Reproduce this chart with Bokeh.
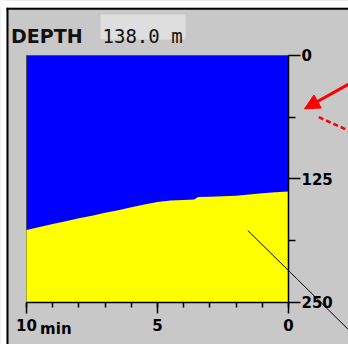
from bokeh.plotting import figure
from bokeh.models import Range1d, FixedTicker, Label, Arrow, NormalHead, ColumnDataSource, BoxAnnotation
from bokeh.embed import file_html
from bokeh.resources import INLINE

# ---- data: minutes before now and depth (m) ----
minutes = [10, 9.5, 9, 8.5, 8, 7.5, 7, 6.5, 6, 5.5, 5, 4.5, 4, 3.6, 3.45, 3, 2.5, 2, 1.5, 1, 0.5, 0]
depth = [177, 174, 171, 168, 165, 162.5, 159.5, 157, 154, 151, 148.5, 147, 146.5, 146, 143.5, 143.3, 142.8, 142.2, 141, 139.8, 138.8, 138]
x_major = [10, 5, 0]
x_minor = [10, 9, 8, 7, 6, 5, 4, 3, 2, 1, 0]
y_major = [0, 125, 250]
y_minor = [62.5, 187.5]
x_labels = {10: "10", 5: "5", 0: "0"}
x_unit = "min"
title_text = "DEPTH"
value_text = "138.0 m"

GRAY = "#c8c8c8"

# whole canvas is the frame; axes are pinned at the data edges
p = figure(width=348, height=344, output_backend="svg", toolbar_location=None,
           x_range=Range1d(10.9924, -2.2901), y_range=Range1d(293.1, -55.78),
           x_axis_location="below", y_axis_location="right", min_border=0,
           min_border_left=0, min_border_right=0, min_border_top=0, min_border_bottom=0)
p.title.visible = False
p.border_fill_color = GRAY
p.background_fill_color = GRAY
p.outline_line_color = None
p.grid.visible = False

t0, t1 = x_major[0], x_major[-1]
d0, d1 = y_major[0], y_major[-1]

# plot area (blue) and bottom profile (yellow)
p.quad(left=[t0], right=[t1], top=[d0], bottom=[d1], fill_color="#0000ff", line_color="#505050", line_width=1)
src = ColumnDataSource(dict(t=minutes, d=depth, b=[d1] * len(minutes)))
p.varea(x="t", y1="d", y2="b", source=src, fill_color="#ffff00")

xa = p.xaxis[0]
xa.fixed_location = d1
xa.bounds = (t1, t0)
xa.ticker = FixedTicker(ticks=x_major, minor_ticks=x_minor)
xa.major_label_overrides = x_labels
xa.major_tick_out = 11
xa.major_tick_in = 0
xa.minor_tick_out = 5
xa.minor_tick_in = 0
xa.axis_line_color = "black"
xa.axis_line_width = 1.5
xa.major_tick_line_color = "black"
xa.minor_tick_line_color = "black"
xa.major_tick_line_width = 1.5
xa.minor_tick_line_width = 1.5
xa.major_label_text_font = "DejaVu Sans"
xa.major_label_text_font_style = "bold"
xa.major_label_text_font_size = "15px"
xa.major_label_text_color = "black"
xa.major_label_standoff = 6

ya = p.yaxis[0]
ya.fixed_location = t1
ya.bounds = (d0, d1)
ya.ticker = FixedTicker(ticks=y_major, minor_ticks=y_minor)
ya.major_tick_out = 12
ya.major_tick_in = 0
ya.minor_tick_out = 7
ya.minor_tick_in = 0
ya.axis_line_color = "black"
ya.axis_line_width = 1.5
ya.major_tick_line_color = "black"
ya.minor_tick_line_color = "black"
ya.major_tick_line_width = 1.5
ya.minor_tick_line_width = 1.5
ya.major_label_text_font = "DejaVu Sans"
ya.major_label_text_font_style = "bold"
ya.major_label_text_font_size = "15px"
ya.major_label_text_color = "black"
ya.major_label_standoff = 1

# header texts
p.add_layout(BoxAnnotation(left=7.176, right=3.931, top=-41.6, bottom=-16.2,
                           fill_color="#dedede", fill_alpha=1, line_color=None))
p.add_layout(Label(x=10.592, y=-19.27, text=title_text, text_font="DejaVu Sans", text_font_style="bold",
                   text_font_size="19px", text_color="#111111", text_baseline="alphabetic"))
p.add_layout(Label(x=7.099, y=-19.27, text=value_text, text_font="DejaVu Sans Mono",
                   text_font_size="19px", text_color="#111111", text_baseline="alphabetic"))
p.add_layout(Label(x=9.48, y=277.4, text=x_unit, text_font="DejaVu Sans", text_font_style="bold",
                   text_font_size="15px", text_color="black", text_baseline="alphabetic"))

# decorations: arrows and lines
p.add_layout(Arrow(end=NormalHead(size=15, fill_color="red", line_color="red"),
                   x_start=-2.748, y_start=22.3, x_end=-0.611, y_end=54.06,
                   line_color="red", line_width=3))
p.add_layout(Arrow(end=None, x_start=-1.156, y_start=62.6, x_end=-2.748, y_end=81.5,
                   line_color="red", line_width=2.5, line_dash="5 3"))
p.add_layout(Arrow(end=None, x_start=1.553, y_start=177.5, x_end=-2.748, y_end=290,
                   line_color="black", line_width=1))

# white page edge and black frame lines (top, left)
p.add_layout(BoxAnnotation(left=11.2, right=-2.5, top=-56, bottom=-48.4,
                           fill_color="white", fill_alpha=1, line_color=None))
p.add_layout(BoxAnnotation(left=11.2, right=10.763, top=-56, bottom=295,
                           fill_color="white", fill_alpha=1, line_color=None))
p.add_layout(Arrow(end=None, x_start=10.76, y_start=-47.5, x_end=-2.5, y_end=-47.5,
                   line_color="black", line_width=2))
p.add_layout(Arrow(end=None, x_start=10.725, y_start=-48.4, x_end=10.725, y_end=295,
                   line_color="black", line_width=2))

open("out.html", "w").write(file_html(p, INLINE))
